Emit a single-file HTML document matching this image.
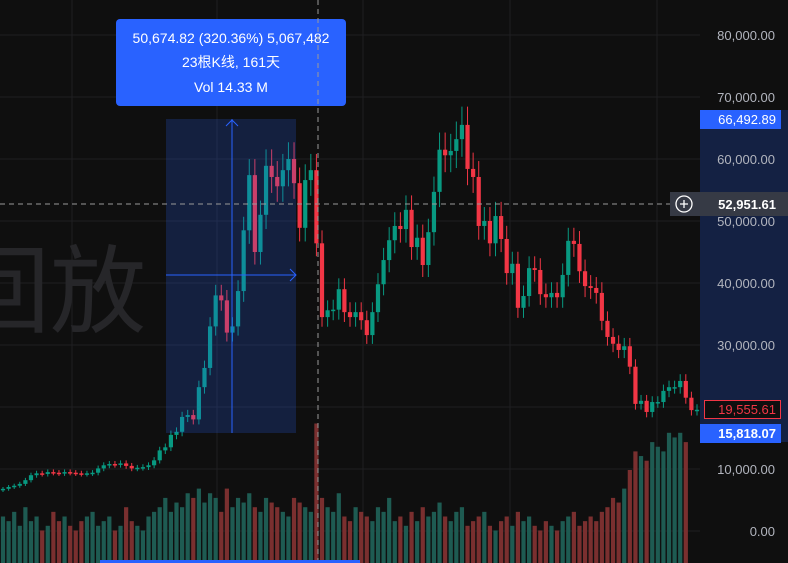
<!DOCTYPE html>
<html><head><meta charset="utf-8"><style>
body{margin:0;background:#0f0f0f;width:788px;height:563px;overflow:hidden;font-family:"Liberation Sans","Noto Sans CJK SC",sans-serif}
svg{display:block}
</style></head><body>
<svg id="c" width="788" height="563">
<rect x="0" y="0" width="788" height="563" fill="#0f0f0f"/>
<g id="grid"></g>
<text x="-46" y="325" font-size="96" fill="#262629" font-family="'Liberation Sans','Noto Sans CJK SC',sans-serif">回放</text>
<g id="vol"></g>
<g id="candles"></g>
<g id="overlay"></g>
<g id="axis"></g>
</svg>
<script>
const closes=[6800,7100,7300,7600,8200,9000,9300,9200,9500,9400,9300,9500,9400,9300,9200,9300,9400,10100,10600,10800,10700,10900,10500,10100,10200,10300,10600,11400,
13000,13500,15500,16000,18400,18700,18000,23200,26300,33000,38000,37200,32000,33000,38700,48500,57400,45000,51000,58900,57100,55600,58200,60000,56100,48900,56600,58200,46400,
34500,35600,35700,39000,35300,34500,35300,34000,31600,35300,39800,43700,46900,49200,48700,51800,45800,47300,42900,48200,54700,61500,60600,61300,63200,65500,58400,57100,49200,50000,46400,50800,47100,41600,43100,36000,37900,42400,42100,38200,37700,38400,37700,41300,46800,46300,41900,39500,39200,38400,33900,31300,30200,29200,29800,26500,20500,21000,19200,20800,20800,22600,23200,23200,24200,21500,19500,19555];
const volumes=[50,45,55,40,60,45,50,35,40,55,45,50,40,35,45,50,55,40,45,50,35,40,60,45,40,35,50,55,
60,70,55,65,60,75,70,80,65,75,70,55,80,60,70,65,75,60,55,70,65,60,55,50,70,65,60,55,150,
70,60,55,75,50,45,60,55,50,45,60,55,70,45,50,40,55,45,60,50,55,65,50,45,55,60,40,45,50,55,40,35,45,50,40,55,45,50,40,35,45,40,35,45,50,55,40,45,50,45,55,60,70,65,80,100,120,115,110,130,125,120,140,135,140,130];
const priceTicks=[80000,70000,60000,50000,40000,30000,20000,10000,0];
const tickLabels=["80,000.00","70,000.00","60,000.00","50,000.00","40,000.00","30,000.00","20,000.00","10,000.00","0.00"];
const NS="http://www.w3.org/2000/svg";
function y(v){return 531-v*0.0062;}
const n=closes.length, step=(697-3)/(n-1);
function x(i){return 3+i*step;}
function vy(v){return 563-v*0.93;}
function mk(tag,attrs,parent){const e=document.createElementNS(NS,tag);for(const k in attrs)e.setAttribute(k,attrs[k]);parent.appendChild(e);return e;}
const grid=document.getElementById('grid');
priceTicks.forEach(p=>{const l=mk('line',{x1:0,x2:700,y1:y(p),y2:y(p),stroke:'#1f1f22','stroke-width':1},grid);

});
[72,217,363,510,657].forEach(gx=>{const l=mk('line',{x1:gx,x2:gx,y1:0,y2:563,stroke:'#1f1f22','stroke-width':1},grid);

});
const vg=document.getElementById('vol'), cg=document.getElementById('candles');
let prev=closes[0]*0.97;
for(let i=0;i<n;i++){
 const c=closes[i],o=prev,up=c>=o,col=up?'#089981':'#f23645';
 const hi=Math.max(o,c)*1.045,lo=Math.min(o,c)*0.955;
 const cx=x(i),w=Math.max(step-1.4,2);
 if(volumes[i]!==undefined){const vb=mk('rect',{x:cx-w/2,y:vy(volumes[i]),width:w,height:563-vy(volumes[i]),fill:up?'#1e5b52':'#7a2f2f'},vg);
 
 }
 const wk=mk('line',{x1:cx,x2:cx,y1:y(hi),y2:y(lo),stroke:col,'stroke-width':1},cg);
 
 
 const b=mk('rect',{x:cx-w/2,y:y(Math.max(o,c)),width:w,height:Math.max(Math.abs(y(o)-y(c)),1.5),fill:col},cg);
 
 
 prev=c;
}
const ov=document.getElementById('overlay');
ov.innerHTML=`
<rect x="166" y="119" width="130" height="314" fill="rgba(41,98,255,0.2)"/>
<line x1="232" y1="119" x2="232" y2="433" stroke="#2962ff"/>
<polyline points="226,126 232,120 238,126" fill="none" stroke="#2962ff"/>
<line x1="166" y1="275" x2="296" y2="275" stroke="#2962ff"/>
<polyline points="290,269 296,275 290,281" fill="none" stroke="#2962ff"/>
<rect x="116" y="19" width="230" height="87" rx="4" fill="#2962ff"/>
<text x="231" y="43" fill="#fff" font-size="14" text-anchor="middle">50,674.82 (320.36%) 5,067,482</text>
<text x="231" y="67" fill="#fff" font-size="14" text-anchor="middle">23根K线, 161天</text>
<text x="231" y="92" fill="#fff" font-size="14" text-anchor="middle">Vol 14.33 M</text>
<line x1="318" y1="0" x2="318" y2="563" stroke="#9a9a9a" stroke-dasharray="5,4"/>
<line x1="0" y1="204" x2="700" y2="204" stroke="#9a9a9a" stroke-dasharray="5,4"/>
<rect x="100" y="560" width="260" height="3" fill="#2962ff"/>`;
const ax=document.getElementById('axis');
mk('rect',{x:700,y:110,width:88,height:332,fill:'rgba(41,98,255,0.22)'},ax);
priceTicks.forEach((p,k)=>{const t=mk('text',{x:775,y:y(p)+5,fill:'#b2b5be','font-size':13,'text-anchor':'end'},ax);t.textContent=tickLabels[k];

});
ax.insertAdjacentHTML('beforeend',`
<rect x="700" y="110" width="81" height="19" fill="#2962ff"/>
<text x="776" y="124" fill="#fff" font-size="13" text-anchor="end">66,492.89</text>
<rect x="670" y="192" width="118" height="24" fill="#363a45"/>
<circle cx="684" cy="204" r="8" fill="none" stroke="#fff" stroke-width="1.3"/>
<path d="M680 204h8M684 200v8" stroke="#fff" stroke-width="1.3"/>
<text x="776" y="209" fill="#fff" font-size="13" font-weight="bold" text-anchor="end">52,951.61</text>
<rect x="704.5" y="400.5" width="76" height="18" fill="#0f0f0f" stroke="#f23645"/>
<text x="776" y="414" fill="#f23645" font-size="13" text-anchor="end">19,555.61</text>
<rect x="700" y="424" width="81" height="19" fill="#2962ff"/>
<text x="776" y="438" fill="#fff" font-size="13" font-weight="bold" text-anchor="end">15,818.07</text>`);
</script>
</body></html>
